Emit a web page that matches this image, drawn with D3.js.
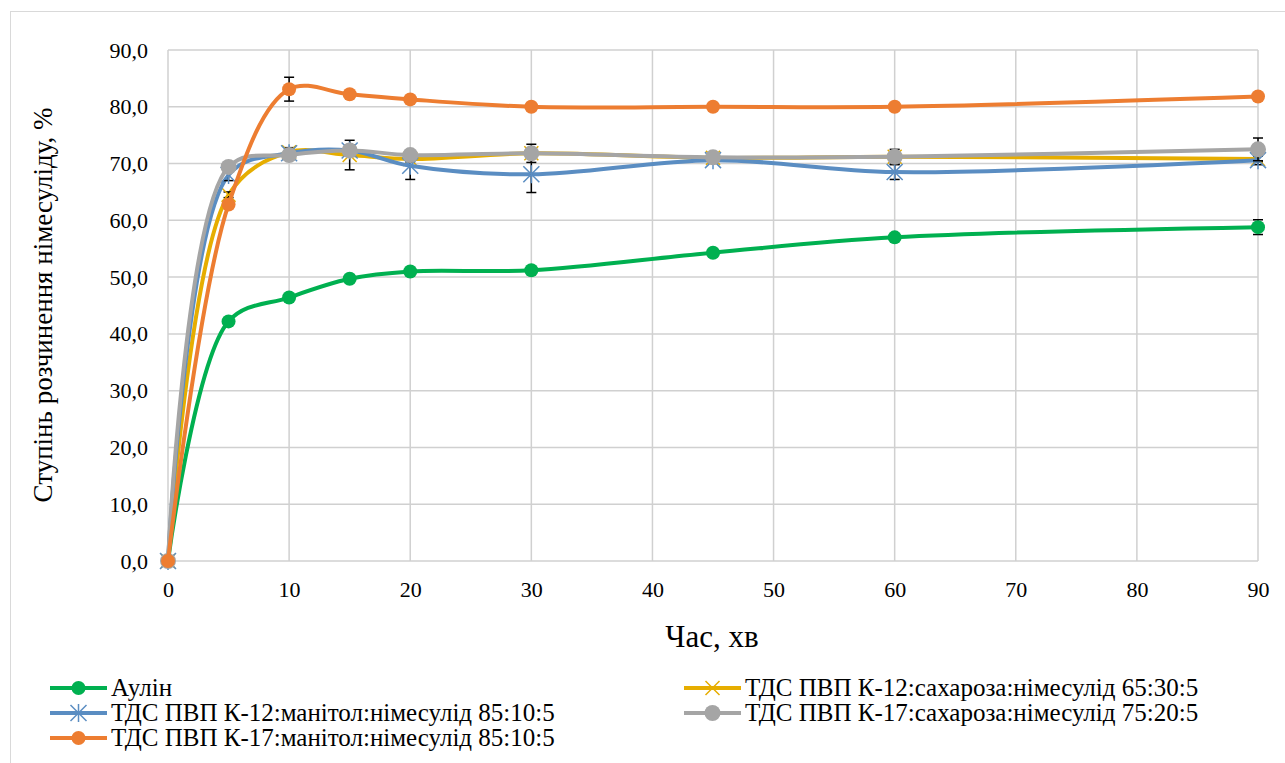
<!DOCTYPE html>
<html>
<head>
<meta charset="utf-8">
<script src="https://cdn.jsdelivr.net/npm/d3@7"></script>
<style>
  body { margin: 0; background: #fff; font-family: 'Liberation Serif', 'DejaVu Serif', serif; }
  .grid line { stroke: #d0d0d0; stroke-width: 1.5; }
  .tick text { fill: #000; font-size: 22px; }
</style>
</head>
<body>
<div id="chart"></div>
<script>
// data
var times = [0, 5, 10, 15, 20, 30, 45, 60, 90];
var xTicks = [0, 10, 20, 30, 40, 50, 60, 70, 80, 90];
var yTicks = [0, 10, 20, 30, 40, 50, 60, 70, 80, 90];

var seriesNames = [
  "Аулін",
  "ТДС ПВП К-12:сахароза:німесулід 65:30:5",
  "ТДС ПВП К-12:манітол:німесулід 85:10:5",
  "ТДС ПВП К-17:сахароза:німесулід 75:20:5",
  "ТДС ПВП К-17:манітол:німесулід 85:10:5"
];
var aulin      = [0, 42.2, 46.4, 49.7, 51.0, 51.2, 54.3, 57.0, 58.8];
var k12sugar   = [0, 64.5, 72.0, 71.5, 70.8, 71.8, 71.0, 71.2, 70.8];
var k12mannit  = [0, 68.0, 71.8, 72.3, 69.6, 68.1, 70.6, 68.5, 70.6];
var k17sugar   = [0, 69.4, 71.5, 72.3, 71.5, 71.8, 71.1, 71.2, 72.5];
var k17mannit  = [0, 62.8, 83.1, 82.2, 81.3, 80.0, 80.0, 80.0, 81.8];

var aulinErr     = [0, 0.5, 0.5, 0.5, 0.5, 0.5, 0.5, 0.5, 1.3];
var k12sugarErr  = [0, 0.5, 0.8, 2.6, 0.5, 0.5, 0.5, 0.5, 0.5];
var k12mannitErr = [0, 1.0, 0.8, 1.0, 2.4, 3.2, 0.5, 1.3, 0.8];
var k17sugarErr  = [0, 0.5, 0.8, 0.5, 0.5, 1.6, 0.5, 1.3, 2.0];
var k17mannitErr = [0, 0.5, 2.1, 0.5, 0.5, 0.5, 0.5, 0.5, 0.5];

var colors = ["#00b050", "#e6ad00", "#5a8dc2", "#a5a5a5", "#ed7d31"];
var markers = ["circle", "x", "star", "bigcircle", "circle"];
var values = [aulin, k12sugar, k12mannit, k17sugar, k17mannit];
var errors = [aulinErr, k12sugarErr, k12mannitErr, k17sugarErr, k17mannitErr];

var FONT = "'Liberation Serif', 'DejaVu Serif', serif";

var W = 1285, H = 763;
var svg = d3.select("#chart").append("svg")
  .attr("width", W).attr("height", H)
  .attr("font-family", FONT);

// chart border
svg.append("rect")
  .attr("x", 10.5).attr("y", 11.5)
  .attr("width", 1300).attr("height", 800)
  .attr("fill", "none").attr("stroke", "#d9d9d9").attr("stroke-width", 1);

var x = d3.scaleLinear().domain([0, 90]).range([168, 1258]);
var y = d3.scaleLinear().domain([0, 90]).range([561, 50]);

// gridlines
svg.append("g").attr("class", "grid")
  .selectAll("line").data(yTicks).enter().append("line")
  .attr("x1", x(0)).attr("x2", x(90))
  .attr("y1", function(d){ return y(d); }).attr("y2", function(d){ return y(d); });
svg.append("g").attr("class", "grid")
  .selectAll("line").data(xTicks).enter().append("line")
  .attr("y1", y(0)).attr("y2", y(90))
  .attr("x1", function(d){ return x(d); }).attr("x2", function(d){ return x(d); });

// axes (labels only)
var fmt = function(d){ return d3.format(".1f")(d).replace(".", ","); };
var yAxis = svg.append("g")
  .attr("transform", "translate(" + x(0) + ",0)")
  .call(d3.axisLeft(y).tickValues(yTicks).tickFormat(fmt).tickSize(0).tickPadding(20))
  .attr("font-family", FONT).attr("font-size", 22);
yAxis.select(".domain").remove();

var xAxis = svg.append("g")
  .attr("transform", "translate(0," + y(0) + ")")
  .call(d3.axisBottom(x).tickValues(xTicks).tickFormat(d3.format("d")).tickSize(0).tickPadding(20))
  .attr("font-family", FONT).attr("font-size", 22);
xAxis.select(".domain").remove();

// axis titles
svg.append("text")
  .attr("x", 712).attr("y", 647)
  .attr("text-anchor", "middle")
  .style("font-family", FONT)
  .style("font-size", "31px")
  .text("Час, хв");

svg.append("text")
  .attr("transform", "translate(52,305) rotate(-90)")
  .attr("text-anchor", "middle")
  .style("font-family", FONT)
  .style("font-size", "27px")
  .text("Ступінь розчинення німесуліду, %");

// lines
var line = d3.line()
  .x(function(d){ return x(d[0]); })
  .y(function(d){ return y(d[1]); })
  .curve(d3.curveCatmullRom.alpha(0.5));

function drawMarker(g, type, color, cx, cy) {
  if (type == "circle" || type == "bigcircle") {
    g.append("circle")
      .attr("cx", cx).attr("cy", cy)
      .attr("r", type == "bigcircle" ? 8 : 7)
      .attr("fill", color);
  } else if (type == "x") {
    var s = 7;
    g.append("path")
      .attr("d", "M" + (cx - s) + "," + (cy - s) + "L" + (cx + s) + "," + (cy + s) +
                 "M" + (cx - s) + "," + (cy + s) + "L" + (cx + s) + "," + (cy - s))
      .attr("stroke", color).attr("stroke-width", 1.5);
  } else if (type == "star") {
    var s = 8;
    g.append("path")
      .attr("d", "M" + (cx - s) + "," + (cy - s) + "L" + (cx + s) + "," + (cy + s) +
                 "M" + (cx - s) + "," + (cy + s) + "L" + (cx + s) + "," + (cy - s) +
                 "M" + cx + "," + (cy - s - 1) + "L" + cx + "," + (cy + s + 1))
      .attr("stroke", color).attr("stroke-width", 1.5);
  }
}

values.forEach(function(vals, i) {
  var pts = times.map(function(t, j){ return [t, vals[j], errors[i][j]]; });
  var g = svg.append("g");

  g.append("path")
    .datum(pts)
    .attr("fill", "none")
    .attr("stroke", colors[i])
    .attr("stroke-width", 4)
    .attr("d", line);

  // error bars
  var eb = g.append("g").attr("stroke", "#000").attr("stroke-width", 1.5);
  pts.forEach(function(p) {
    if (p[2] <= 0) return;
    var cx = x(p[0]), y1 = y(p[1] + p[2]), y2 = y(p[1] - p[2]);
    eb.append("line").attr("x1", cx).attr("x2", cx).attr("y1", y1).attr("y2", y2);
    eb.append("line").attr("x1", cx - 5).attr("x2", cx + 5).attr("y1", y1).attr("y2", y1);
    eb.append("line").attr("x1", cx - 5).attr("x2", cx + 5).attr("y1", y2).attr("y2", y2);
  });

  pts.forEach(function(p) {
    drawMarker(g, markers[i], colors[i], x(p[0]), y(p[1]));
  });
});

// legend (two columns, row-major)
var legendPos = [
  [50, 688], [684, 688],
  [50, 713], [684, 713],
  [50, 738]
];
seriesNames.forEach(function(name, i) {
  var lx = legendPos[i][0], ly = legendPos[i][1];
  var g = svg.append("g");
  g.append("line")
    .attr("x1", lx).attr("x2", lx + 57)
    .attr("y1", ly).attr("y2", ly)
    .attr("stroke", colors[i]).attr("stroke-width", 4);
  drawMarker(g, markers[i], colors[i], lx + 28.5, ly);
  g.append("text")
    .attr("x", lx + 61).attr("y", ly + 8)
    .style("font-family", FONT)
    .style("font-size", "25px")
    .text(name);
});
</script>
</body>
</html>
